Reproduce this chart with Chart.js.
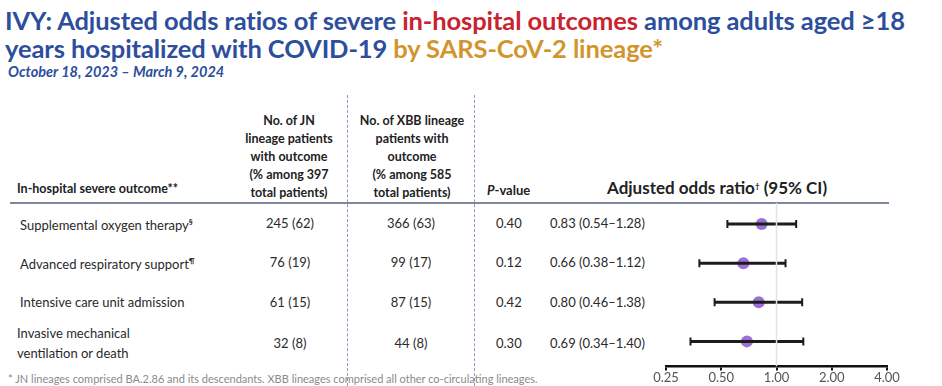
<!DOCTYPE html>
<html>
<head>
<meta charset="utf-8">
<script src="https://cdn.jsdelivr.net/npm/chart.js@4.4.1/dist/chart.umd.min.js"></script>
<style>
  body { margin: 0; width: 942px; height: 386px; overflow: hidden; background: #fff; position: relative;
         font-family: Lato, "Open Sans", sans-serif; color: #2a2a2a; }
  .t { position: absolute; white-space: nowrap; }
  .title { left: 5px; top: 6px; font-size: 25.5px; font-weight: 700; line-height: 28px; color: #2c4e9c; letter-spacing: -0.1px; }
  .red { color: #c9232f; }
  .gold { color: #d2952e; }
  .sub { left: 8px; top: 63px; font-size: 14.5px; font-weight: 700; font-style: italic; color: #2c4e9c; }
  .hd { font-size: 12.5px; font-weight: 700; text-align: center; line-height: 18px; color: #222; }
  .cell { font-size: 13px; transform: translateY(-50%); }
  .ctr { text-align: center; width: 120px; margin-left: -60px; }
  sup { font-size: 8px; font-weight: 700; vertical-align: 5px; }
  .dash { position: absolute; width: 0; border-left: 1.5px dashed #8a9ac0; top: 95px; height: 291px; }
  #forest { position: absolute; left: 640px; top: 195px; }
</style>
</head>
<body>
<div class="t title">IVY: Adjusted odds ratios of severe <span class="red">in-hospital outcomes</span> among adults aged ≥18<br>years hospitalized with COVID-19 <span class="gold">by SARS-CoV-2 lineage*</span></div>
<div class="t sub">October 18, 2023 – March 9, 2024</div>

<div class="dash" style="left:347px"></div>
<div class="dash" style="left:474px"></div>

<div class="t hd" style="left:289px;top:112px;width:130px;margin-left:-65px">No. of JN<br>lineage patients<br>with outcome<br>(% among 397<br>total patients)</div>
<div class="t hd" style="left:412px;top:112px;width:130px;margin-left:-65px">No. of XBB lineage<br>patients with<br>outcome<br>(% among 585<br>total patients)</div>
<div class="t hd" style="left:17px;top:180px;text-align:left">In-hospital severe outcome**</div>
<div class="t hd" style="left:487px;top:181px;text-align:left;font-size:13px"><i>P</i>-value</div>
<div class="t" style="left:607px;top:177px;font-size:17px;font-weight:700;color:#222">Adjusted odds ratio<sup>†</sup> (95% CI)</div>
<div class="t" style="left:10px;top:202px;width:879px;height:2px;background:#7d889c"></div>

<div id="rows"></div>
<div class="t" style="left:8px;top:372px;font-size:11px;line-height:13px;color:#8a8a8a">* JN lineages comprised BA.2.86 and its descendants. XBB lineages comprised all other co-circulating lineages.</div>

<canvas id="forest" width="302" height="191"></canvas>

<script>
// table + forest plot data
const outcomes = ["Supplemental oxygen therapy", "Advanced respiratory support", "Intensive care unit admission", "Invasive mechanical<br>ventilation or death"];
const outcomeMarks = ["§", "¶", "", ""];
const jnCount = [245, 76, 61, 32];
const jnPct = [62, 19, 15, 8];
const xbbCount = [366, 99, 87, 44];
const xbbPct = [63, 17, 15, 8];
const pValues = [0.40, 0.12, 0.42, 0.30];
const oddsRatio = [0.83, 0.66, 0.80, 0.69];
const ciLow = [0.54, 0.38, 0.46, 0.34];
const ciHigh = [1.28, 1.12, 1.38, 1.40];
const xTicks = [0.25, 0.5, 1, 2, 4];

// text rows
const rowY = [223, 262, 302, 343];
const rowsEl = document.getElementById("rows");
let html = "";
outcomes.forEach((name, i) => {
  const y = rowY[i];
  const lbl = name + (outcomeMarks[i] ? "<sup>" + outcomeMarks[i] + "</sup>" : "");
  const multi = name.includes("<br>");
  html += `<div class="t cell" style="left:${multi ? 17 : 20}px;top:${y}px;line-height:${multi ? 20 : 16}px">${lbl}</div>`;
  html += `<div class="t cell ctr" style="left:290px;top:${y}px">${jnCount[i]} (${jnPct[i]})</div>`;
  html += `<div class="t cell ctr" style="left:411px;top:${y}px">${xbbCount[i]} (${xbbPct[i]})</div>`;
  html += `<div class="t cell" style="left:496px;top:${y}px">${pValues[i].toFixed(2)}</div>`;
  html += `<div class="t cell" style="left:550px;top:${y}px">${oddsRatio[i].toFixed(2)} (${ciLow[i].toFixed(2)}–${ciHigh[i].toFixed(2)})</div>`;
});
rowsEl.innerHTML = html;

// forest plot
const yMin = -0.54, yMax = 3.64;
const datasets = [];
datasets.push({
  data: [{ x: 1, y: yMin }, { x: 1, y: yMax }],
  showLine: true, borderColor: "#e2e2e2", borderWidth: 1.5, pointRadius: 0
});
oddsRatio.forEach((or, i) => {
  datasets.push({
    data: [{ x: ciLow[i], y: i }, { x: ciHigh[i], y: i }],
    showLine: true, borderColor: "#1c1c1c", borderWidth: 3,
    pointStyle: "line", rotation: 90, pointRadius: 4, pointBorderWidth: 2, pointBorderColor: "#1c1c1c"
  });
});
datasets.push({
  data: oddsRatio.map((v, i) => ({ x: v, y: i })),
  pointRadius: 6, backgroundColor: "#9c6fd8", borderColor: "#9c6fd8", pointBorderWidth: 0
});

new Chart(document.getElementById("forest").getContext("2d"), {
  type: "scatter",
  data: { datasets: datasets },
  options: {
    responsive: false,
    animation: false,
    layout: { padding: { left: 26, right: 55, top: 8, bottom: 0 } },
    plugins: { legend: { display: false }, tooltip: { enabled: false } },
    scales: {
      x: {
        type: "logarithmic",
        min: 0.25, max: 4,
        afterBuildTicks: (axis) => { axis.ticks = xTicks.map(v => ({ value: v })); },
        ticks: {
          color: "#555", font: { family: "Lato", size: 13 }, padding: 0,
          callback: (v) => Number(v).toFixed(2)
        },
        grid: { drawOnChartArea: false, color: "#111", tickLength: 4, lineWidth: 2 },
        border: { color: "#111", width: 2.5 }
      },
      y: {
        min: yMin, max: yMax, reverse: true, display: false
      }
    }
  }
});
</script>
</body>
</html>
